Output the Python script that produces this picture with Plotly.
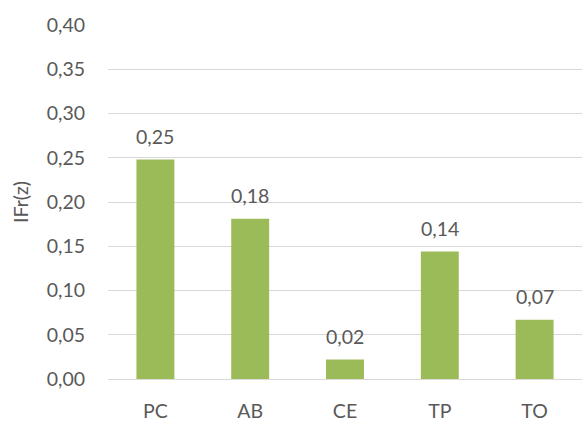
import plotly.graph_objects as go

categories = ["PC", "AB", "CE", "TP", "TO"]
ifr_values = [0.248, 0.181, 0.022, 0.144, 0.067]
tick_values = [0.0, 0.05, 0.10, 0.15, 0.20, 0.25, 0.30, 0.35, 0.40]

text_color = "#595959"
font_family = "Lato, 'Open Sans', sans-serif"
font_size = 19.5

fig = go.Figure(
    go.Bar(
        x=categories,
        y=ifr_values,
        marker=dict(color="#9BBB59", line=dict(width=0)),
        hoverinfo="x+y",
    )
)

# value labels above each bar, with a little breathing room
for cat, val in zip(categories, ifr_values):
    fig.add_annotation(
        x=cat,
        y=val,
        text=f"{val:.2f}".replace(".", ","),
        showarrow=False,
        yanchor="bottom",
        yshift=10,
        font=dict(size=font_size, color=text_color, family=font_family),
    )

fig.update_layout(
    width=584,
    height=421,
    margin=dict(l=108, r=2, t=25, b=42),
    paper_bgcolor="white",
    plot_bgcolor="white",
    separators=",.",
    bargap=0.6,
    showlegend=False,
    font=dict(family=font_family, color=text_color, size=font_size),
)

fig.update_yaxes(
    range=[0, 0.40],
    tickvals=tick_values,
    tickformat=".2f",
    showgrid=True,
    gridcolor="#D9D9D9",
    gridwidth=1.3,
    zeroline=True,
    zerolinecolor="#D9D9D9",
    zerolinewidth=1.3,
    showline=False,
    ticks="",
    ticklabelstandoff=22,
    automargin=False,
    tickfont=dict(size=font_size, color=text_color),
    title=dict(text="IFr(z)", font=dict(size=font_size, color=text_color), standoff=12),
)

fig.update_xaxes(
    showline=False,
    ticks="",
    automargin=False,
    tickfont=dict(size=font_size, color=text_color),
    ticklabelstandoff=18,
)

fig.write_html("out.html")
